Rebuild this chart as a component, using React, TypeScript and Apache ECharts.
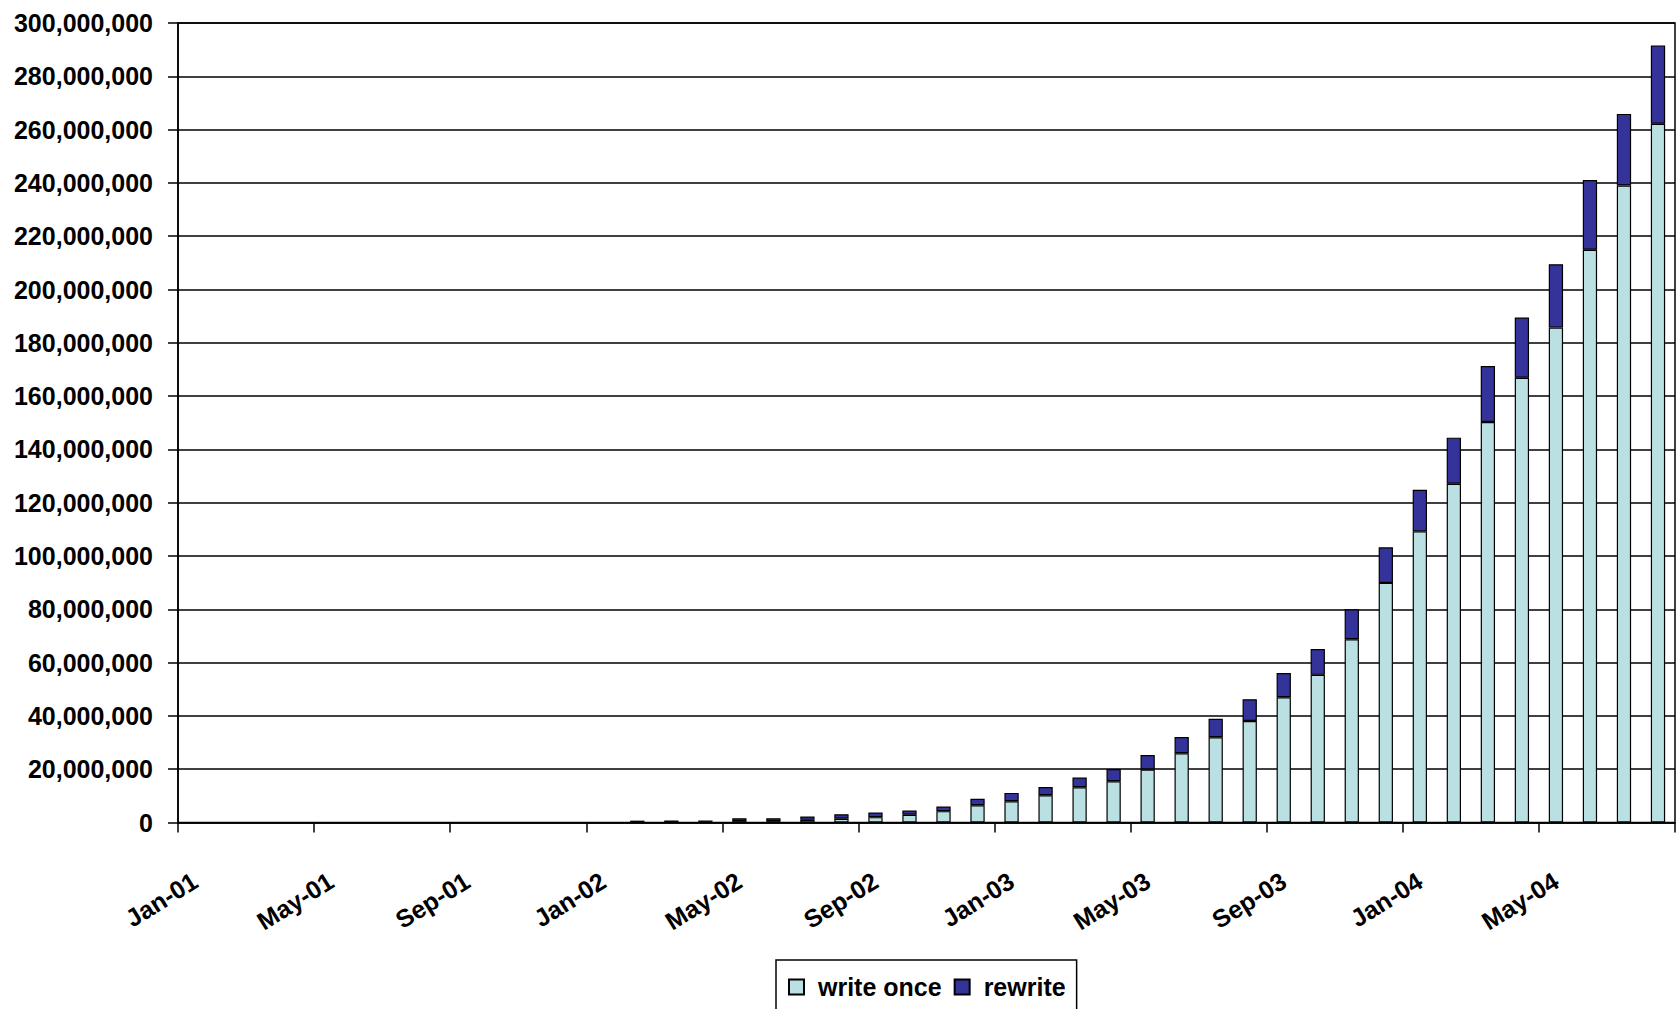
import React, { useEffect, useRef } from "react";
import * as echarts from "echarts";

const categories: string[] = [
  "Jan-01", "Feb-01", "Mar-01", "Apr-01", "May-01", "Jun-01", "Jul-01", "Aug-01", "Sep-01", "Oct-01", "Nov-01", "Dec-01",
  "Jan-02", "Feb-02", "Mar-02", "Apr-02", "May-02", "Jun-02", "Jul-02", "Aug-02", "Sep-02", "Oct-02", "Nov-02", "Dec-02",
  "Jan-03", "Feb-03", "Mar-03", "Apr-03", "May-03", "Jun-03", "Jul-03", "Aug-03", "Sep-03", "Oct-03", "Nov-03", "Dec-03",
  "Jan-04", "Feb-04", "Mar-04", "Apr-04", "May-04", "Jun-04", "Jul-04", "Aug-04",
];

// values in millions
const writeOnceM: (number | null)[] = [
  null, null, null, null, null, null, null, null, null, null, null, null,
  null, 0.2, 0.2, 0.25, 0.5, 0.5, 1.0, 1.4, 2.0, 2.9, 4.25, 6.5,
  8.0, 10.2, 13.2, 15.5, 19.9, 26.0, 32.0, 38.1, 47.0, 55.4, 68.75, 89.9,
  109.25, 127.1, 150.3, 166.9, 185.7, 214.9, 239.0, 262.2,
];

const rewriteM: (number | null)[] = [
  null, null, null, null, null, null, null, null, null, null, null, null,
  null, 0.5, 0.55, 0.5, 1.1, 1.1, 1.25, 1.7, 1.75, 1.6, 1.75, 2.4,
  3.1, 3.1, 3.7, 4.6, 5.4, 6.1, 6.9, 8.15, 9.1, 9.7, 11.25, 13.35,
  15.6, 17.3, 21.0, 22.6, 23.8, 26.2, 26.9, 29.4,
];

const yTicksM = { min: 0, max: 300, interval: 20 };

const FONT = "'Liberation Sans', Arial, sans-serif";

export default function App() {
  const ref = useRef<HTMLDivElement>(null);
  useEffect(() => {
    if (!ref.current) return;
    const chart = echarts.init(ref.current, undefined, { renderer: "svg" });
    chart.setOption({
      animation: false,
      backgroundColor: "#ffffff",
      textStyle: { fontFamily: FONT },
      grid: {
        left: 178,
        right: 4,
        top: 23,
        bottom: 186.5,
        show: true,
        borderColor: "#000",
        borderWidth: 1.5,
        containLabel: false,
        outerBoundsMode: "none",
      },
      legend: {
        data: ["write once", "rewrite"],
        left: 776,
        top: 960,
        orient: "horizontal",
        icon: "rect",
        itemWidth: 15,
        itemHeight: 15,
        itemGap: 12,
        padding: [12, 11, 20, 12],
        borderColor: "#000",
        borderWidth: 1.5,
        textStyle: {
          fontFamily: FONT,
          fontSize: 25,
          fontWeight: "bold",
          color: "#000",
          lineHeight: 30,
          padding: [0, 0, 0, 9],
        },
      },
      xAxis: {
        type: "category",
        data: categories,
        boundaryGap: true,
        axisLine: { show: true, lineStyle: { color: "#000", width: 1.6 } },
        axisTick: {
          show: true,
          interval: 3,
          length: 10,
          alignWithLabel: false,
          lineStyle: { color: "#000", width: 1.5 },
        },
        axisLabel: {
          interval: 3,
          rotate: 32,
          margin: 56,
          fontFamily: FONT,
          fontSize: 25,
          fontWeight: "bold",
          color: "#000",
        },
        splitLine: { show: false },
      },
      yAxis: {
        type: "value",
        min: yTicksM.min,
        max: yTicksM.max,
        interval: yTicksM.interval,
        axisLine: { show: true, lineStyle: { color: "#000", width: 1.6 } },
        axisTick: { show: true, length: 10, lineStyle: { color: "#000", width: 1.5 } },
        axisLabel: {
          margin: 25,
          fontFamily: FONT,
          fontSize: 25,
          fontWeight: "bold",
          color: "#000",
          formatter: (v: number) => Math.round(v * 1e6).toLocaleString("en-US"),
        },
        splitLine: { show: true, lineStyle: { color: "#000", width: 1.5 } },
      },
      series: [
        {
          name: "write once",
          type: "bar",
          stack: "total",
          data: writeOnceM,
          barWidth: "42%",
          itemStyle: { color: "#BBE0E3", borderColor: "#000", borderWidth: 1.2 },
        },
        {
          name: "rewrite",
          type: "bar",
          stack: "total",
          data: rewriteM,
          barWidth: "42%",
          itemStyle: { color: "#333399", borderColor: "#000", borderWidth: 1.2 },
        },
      ],
    });
    return () => chart.dispose();
  }, []);
  return (
    <div
      ref={ref}
      style={{ position: "fixed", left: 0, top: 0, width: "1679px", height: "1009px", background: "#fff" }}
    />
  );
}
